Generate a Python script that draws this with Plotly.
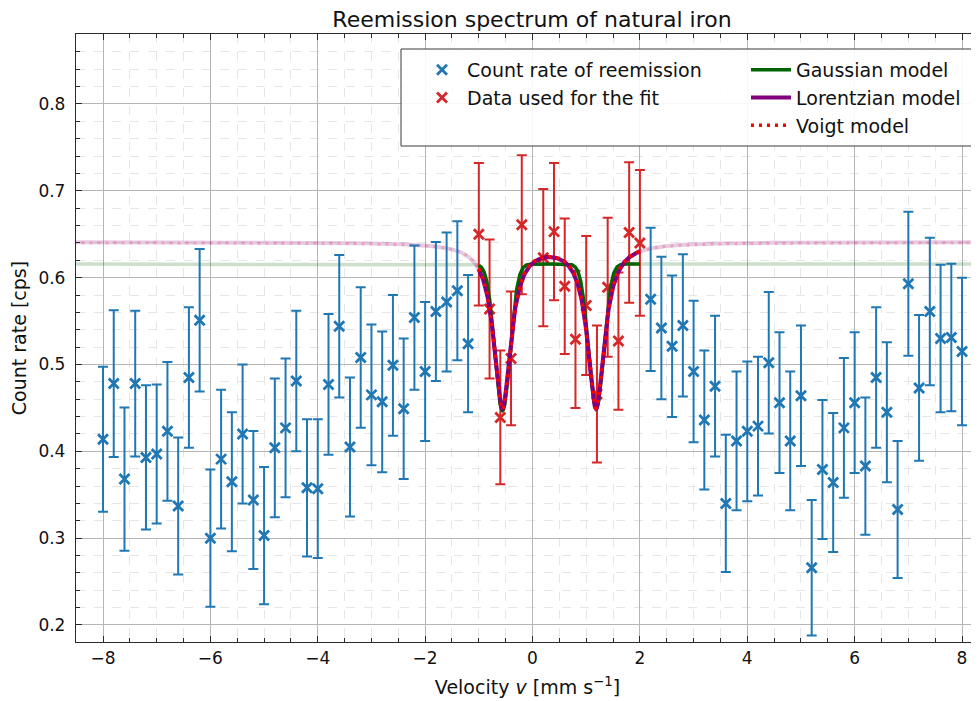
import numpy as np
import plotly.graph_objects as go

# ---------------- data ----------------
v_blue = [-8.0, -7.8, -7.6, -7.4, -7.2, -7.0, -6.8, -6.6, -6.4, -6.2,
          -6.0, -5.8, -5.6, -5.4, -5.2, -5.0, -4.8, -4.6, -4.4, -4.2,
          -4.0, -3.8, -3.6, -3.4, -3.2, -3.0, -2.8, -2.6, -2.4, -2.2,
          -2.0, -1.8, -1.6, -1.4, -1.2,
          2.2, 2.4, 2.6, 2.8, 3.0, 3.2, 3.4, 3.6, 3.8, 4.0,
          4.2, 4.4, 4.6, 4.8, 5.0, 5.2, 5.4, 5.6, 5.8, 6.0,
          6.2, 6.4, 6.6, 6.8, 7.0, 7.2, 7.4, 7.6, 7.8, 8.0]
rate_blue = [0.414, 0.478, 0.368, 0.478, 0.393, 0.397, 0.423, 0.337, 0.485, 0.551,
             0.300, 0.391, 0.365, 0.420, 0.344, 0.303, 0.404, 0.427, 0.481, 0.358,
             0.357, 0.477, 0.544, 0.405, 0.508, 0.465, 0.457, 0.499, 0.449, 0.554,
             0.492, 0.561, 0.572, 0.585, 0.524,
             0.575, 0.542, 0.521, 0.545, 0.492, 0.436, 0.475, 0.340, 0.412, 0.423,
             0.429, 0.502, 0.456, 0.412, 0.464, 0.266, 0.379, 0.364, 0.427, 0.456,
             0.383, 0.485, 0.445, 0.333, 0.593, 0.473, 0.561, 0.530, 0.531, 0.515]
err_blue = [0.0835, 0.0845, 0.0825, 0.084, 0.083, 0.080, 0.080, 0.079, 0.081, 0.082,
            0.079, 0.080, 0.080, 0.080, 0.0795, 0.079, 0.080, 0.080, 0.081, 0.079,
            0.080, 0.081, 0.082, 0.080, 0.081, 0.081, 0.081, 0.081, 0.081, 0.083,
            0.080, 0.080, 0.080, 0.080, 0.079,
            0.0825, 0.082, 0.0815, 0.082, 0.0815, 0.080, 0.081, 0.079, 0.080, 0.0805,
            0.080, 0.0815, 0.081, 0.080, 0.081, 0.078, 0.080, 0.080, 0.0805, 0.081,
            0.079, 0.081, 0.0805, 0.079, 0.083, 0.084, 0.085, 0.085, 0.085, 0.085]

v_fit = [-1.0, -0.8, -0.6, -0.4, -0.2, 0.2, 0.4, 0.6, 0.8, 1.0, 1.2, 1.4, 1.6, 1.8, 2.0]
rate_fit = [0.650, 0.564, 0.439, 0.507, 0.661, 0.623, 0.653, 0.590, 0.529, 0.568,
            0.466, 0.589, 0.527, 0.652, 0.640]
err_fit = [0.082, 0.080, 0.077, 0.077, 0.080, 0.079, 0.079, 0.078, 0.079, 0.080,
           0.079, 0.080, 0.079, 0.081, 0.084]

# fitted model parameters (two absorption dips on a constant background)
gauss_base, gauss_amp, gauss_cen, gauss_sig = 0.6157, [0.169, 0.166], [-0.56, 1.185], [0.142, 0.14]
lor_base, lor_amp, lor_cen, lor_hwhm = 0.641, [0.19, 0.19], [-0.562, 1.183], [0.19, 0.19]
voigt_base, voigt_amp, voigt_cen, voigt_hwhm, voigt_eta = 0.6405, [0.19, 0.189], [-0.562, 1.183], [0.192, 0.192], 0.93
fit_range = [-1.0, 2.0]


def gauss_model(x):
    y = np.full_like(x, gauss_base)
    for a, c, s in zip(gauss_amp, gauss_cen, gauss_sig):
        y -= a * np.exp(-(x - c) ** 2 / (2 * s ** 2))
    return y


def lor_model(x):
    y = np.full_like(x, lor_base)
    for a, c, g in zip(lor_amp, lor_cen, lor_hwhm):
        y -= a * g ** 2 / ((x - c) ** 2 + g ** 2)
    return y


def voigt_model(x):
    y = np.full_like(x, voigt_base)
    for a, c, w in zip(voigt_amp, voigt_cen, voigt_hwhm):
        lor = w ** 2 / ((x - c) ** 2 + w ** 2)
        gau = np.exp(-np.log(2) * (x - c) ** 2 / w ** 2)
        y -= a * (voigt_eta * lor + (1 - voigt_eta) * gau)
    return y


x_full = np.linspace(-8.55, 8.4, 3000)
x_fit = np.linspace(fit_range[0], fit_range[1], 800)

BLUE = "#1f77b4"
RED = "#d62728"
GREEN = "#006400"
PURPLE = "#800080"
DOTRED = "#ff0000"
FONT = "DejaVu Sans"

fig = go.Figure()

# faded full-range model curves
fig.add_trace(go.Scatter(x=x_full, y=gauss_model(x_full), mode="lines",
                         line=dict(color=GREEN, width=3.5), opacity=0.2,
                         showlegend=False, hoverinfo="skip"))
fig.add_trace(go.Scatter(x=x_full, y=lor_model(x_full), mode="lines",
                         line=dict(color=PURPLE, width=4), opacity=0.2,
                         showlegend=False, hoverinfo="skip"))
fig.add_trace(go.Scatter(x=x_full, y=voigt_model(x_full), mode="lines",
                         line=dict(color=DOTRED, width=3, dash="3px,5px"), opacity=0.2,
                         showlegend=False, hoverinfo="skip"))

# data
fig.add_trace(go.Scatter(x=v_blue, y=rate_blue, mode="markers",
                         name="Count rate of reemission", legend="legend",
                         marker=dict(symbol="x-thin", size=10, color=BLUE,
                                     line=dict(color=BLUE, width=2.8)),
                         error_y=dict(type="data", array=err_blue, visible=True,
                                      color=BLUE, thickness=2, width=5)))
fig.add_trace(go.Scatter(x=v_fit, y=rate_fit, mode="markers",
                         name="Data used for the fit", legend="legend",
                         marker=dict(symbol="x-thin", size=10, color=RED,
                                     line=dict(color=RED, width=2.8)),
                         error_y=dict(type="data", array=err_fit, visible=True,
                                      color=RED, thickness=2, width=5)))

# models inside the fit range
fig.add_trace(go.Scatter(x=x_fit, y=gauss_model(x_fit), mode="lines", name="Gaussian model",
                         legend="legend2", line=dict(color=GREEN, width=3.5)))
fig.add_trace(go.Scatter(x=x_fit, y=lor_model(x_fit), mode="lines", name="Lorentzian model",
                         legend="legend2", line=dict(color=PURPLE, width=4)))
fig.add_trace(go.Scatter(x=x_fit, y=voigt_model(x_fit), mode="lines", name="Voigt model",
                         legend="legend2", line=dict(color=DOTRED, width=3.5, dash="3px,5px")))

# The page body has an 8px margin, so the figure is placed 8px right/down
# in the browser window; layout numbers below are given in window pixels.
OFF = 8
PLOT_L, PLOT_R, PLOT_T, PLOT_B = 76, 979, 34, 642   # plot area in window pixels
W, H = 979 - OFF, 701 - OFF
L, T = PLOT_L - OFF, PLOT_T - OFF
R = W - (PLOT_R - OFF)
B = H - (PLOT_B - OFF)
pw, ph = W - L - R, H - T - B


def px2paper_x(px):
    return (px - PLOT_L) / pw


def px2paper_y(py):
    return (PLOT_B - py) / ph


# legend frame
fig.add_shape(type="rect", xref="paper", yref="paper",
              x0=px2paper_x(401), x1=px2paper_x(976),
              y0=px2paper_y(146), y1=px2paper_y(49),
              line=dict(color="#3a3a3a", width=1), fillcolor="rgba(255,255,255,0.9)",
              layer="above")

axis_common = dict(
    showline=True, linecolor="#2b2b2b", linewidth=1.3,
    ticks="inside", ticklen=6, tickwidth=1.2, tickcolor="#2b2b2b",
    showgrid=True, gridcolor="#b5b5b5", gridwidth=1,
    zeroline=False, automargin=False,
    tickfont=dict(family=FONT, size=17, color="#111"),
)

fig.update_layout(
    width=W, height=H,
    margin=dict(l=L, r=R, t=T, b=B, pad=0, autoexpand=False),
    paper_bgcolor="white", plot_bgcolor="white",
    font=dict(family=FONT, size=17, color="#111"),
    title=dict(text="Reemission spectrum of natural iron", x=px2paper_x(532), xref="paper",
               xanchor="center", yref="container", y=1 - 4 / H, yanchor="top", automargin=False,
               pad=dict(t=0, b=0, l=0, r=0),
               font=dict(family=FONT, size=22, color="#111")),
    xaxis=dict(range=[-8.503, 8.316], tickvals=[-8, -6, -4, -2, 0, 2, 4, 6, 8],
               mirror="ticks",
               minor=dict(dtick=0.5, tick0=0, ticks="inside", ticklen=3.5, tickcolor="#2b2b2b",
                          showgrid=True, gridcolor="#e6e6e6", griddash="dash", gridwidth=1),
               title=dict(text="Velocity <i>v</i> [mm s<sup>−1</sup>]",
                          font=dict(family=FONT, size=19, color="#111"), standoff=14),
               **axis_common),
    yaxis=dict(range=[0.1804, 0.8806], tickvals=[0.2, 0.3, 0.4, 0.5, 0.6, 0.7, 0.8],
               ticktext=["0.2", "0.3", "0.4", "0.5", "0.6", "0.7", "0.8"],
               ticklabelstandoff=6,
               minor=dict(dtick=0.02, tick0=0, ticks="inside", ticklen=3.5, tickcolor="#2b2b2b",
                          showgrid=True, gridcolor="#e6e6e6", griddash="dash", gridwidth=1),
               title=dict(text="Count rate [cps]",
                          font=dict(family=FONT, size=19, color="#111"), standoff=10),
               **axis_common),
    legend=dict(x=px2paper_x(417), y=px2paper_y(51), xanchor="left", yanchor="top",
                bgcolor="rgba(0,0,0,0)", borderwidth=0,
                font=dict(family=FONT, size=19, color="#111"), itemwidth=40,
                tracegroupgap=0),
    legend2=dict(x=px2paper_x(746), y=px2paper_y(51), xanchor="left", yanchor="top",
                 bgcolor="rgba(0,0,0,0)", borderwidth=0,
                 font=dict(family=FONT, size=19, color="#111"), itemwidth=40,
                 tracegroupgap=0),
)

fig.write_html("out.html")
